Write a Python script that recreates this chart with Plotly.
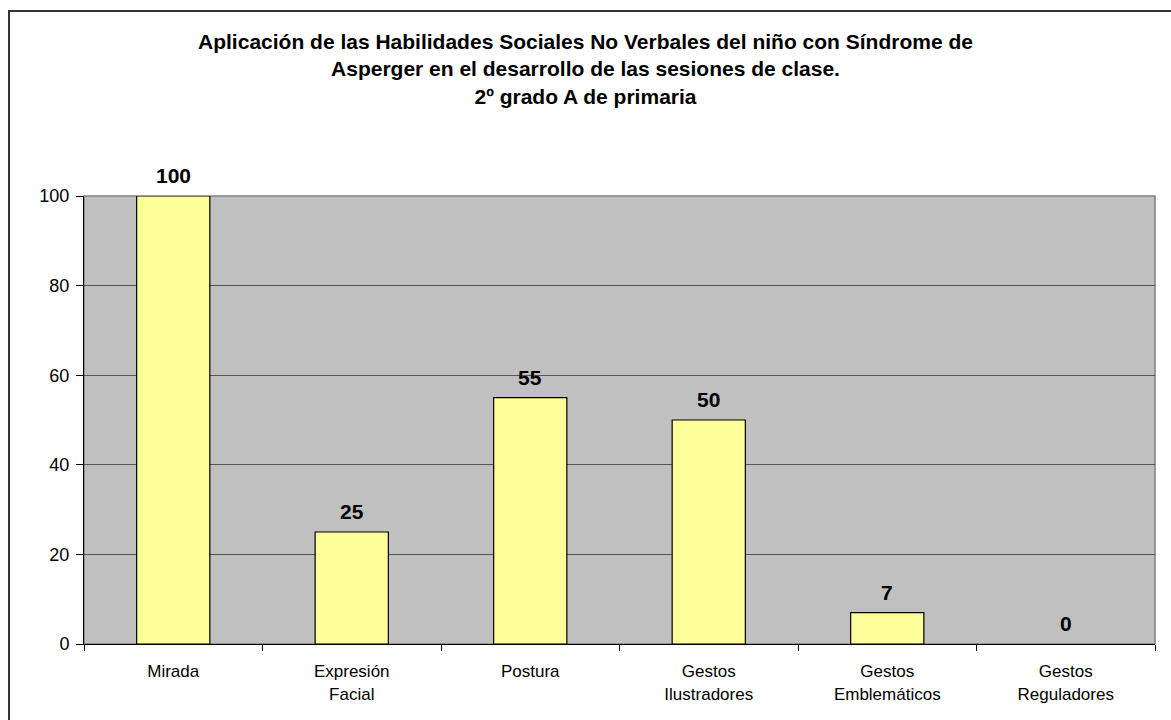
import plotly.graph_objects as go

# Categories and scores
categorias = ["Mirada", "Expresión<br>Facial", "Postura", "Gestos<br>Ilustradores",
              "Gestos<br>Emblemáticos", "Gestos<br>Reguladores"]
valores = [100, 25, 55, 50, 7, 0]
y_ticks = [0, 20, 40, 60, 80, 100]

titulo = ("Aplicación de las Habilidades Sociales No Verbales del niño con Síndrome de<br>"
          "Asperger en el desarrollo de las sesiones de clase.<br>"
          "2º grado A de primaria")

FONT = "Liberation Sans, Arial, sans-serif"

# A bar of height zero gets no outline
bordes = [1.2 if v > 0 else 0 for v in valores]

fig = go.Figure()
fig.add_trace(go.Bar(
    x=categorias,
    y=valores,
    marker=dict(color="#FFFF99", line=dict(color="#000000", width=bordes)),
    width=0.41,
    hoverinfo="x+y",
))

# Value labels above each bar
for c, v in zip(categorias, valores):
    fig.add_annotation(
        x=c, y=v, text=f"<b>{v}</b>", showarrow=False,
        yanchor="bottom", yshift=7,
        font=dict(family=FONT, size=21, color="#000000"),
    )

L, R, T, B = 84, 16, 196, 76
W, H = 1171, 720
pw, ph = W - L - R, H - T - B

# Plot-area outline (grey) and outer chart frame
fig.add_shape(type="rect", xref="paper", yref="paper", x0=0, y0=0, x1=1, y1=1,
              line=dict(color="#808080", width=1.5), layer="below")
fig.add_shape(type="rect", xref="paper", yref="paper",
              x0=(9 - L) / pw, x1=(W + 10 - L) / pw,
              y0=-(H + 10 - (T + ph)) / ph, y1=(T + ph - 11) / ph,
              line=dict(color="#333333", width=2))

fig.update_layout(
    width=W, height=H,
    margin=dict(l=L, r=R, t=T, b=B),
    paper_bgcolor="#FFFFFF",
    plot_bgcolor="#C0C0C0",
    showlegend=False,
    bargap=0.59,
    font=dict(family=FONT, color="#000000"),
    title=dict(
        text=f"<b>{titulo}</b>", x=0.5, xanchor="center",
        y=1 - 49 / H, yanchor="top",
        font=dict(family=FONT, size=21, color="#000000"),
    ),
    xaxis=dict(
        type="category",
        tickson="boundaries",
        ticks="outside", ticklen=6, tickcolor="#000000", tickwidth=1,
        showline=True, linecolor="#000000", linewidth=1,
        showgrid=False,
        tickfont=dict(family=FONT, size=17),
        ticklabelstandoff=12,
        fixedrange=True,
    ),
    yaxis=dict(
        range=[0, 100],
        tickvals=y_ticks,
        ticks="outside", ticklen=7, tickcolor="#000000", tickwidth=1,
        showline=True, linecolor="#000000", linewidth=1,
        showgrid=True, gridcolor="#555555", gridwidth=1,
        zeroline=False,
        tickfont=dict(family=FONT, size=18),
        ticklabelstandoff=3,
        fixedrange=True,
    ),
)

fig.write_html("out.html")
